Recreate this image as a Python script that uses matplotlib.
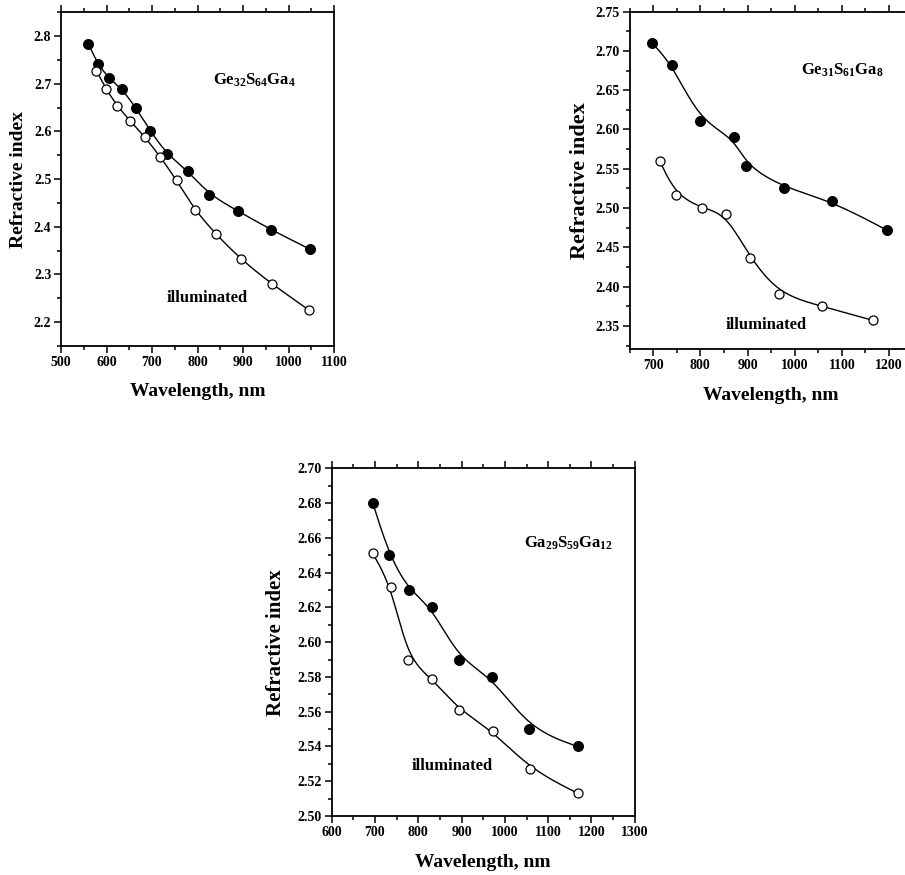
import numpy as np
import matplotlib
matplotlib.use("Agg")
import matplotlib.pyplot as plt
from matplotlib.ticker import MultipleLocator, FormatStrFormatter

plt.rcParams['font.family'] = ['Liberation Serif', 'DejaVu Serif']
plt.rcParams['font.weight'] = 'bold'
plt.rcParams['mathtext.fontset'] = 'custom'
plt.rcParams['mathtext.rm'] = 'Liberation Serif:bold'
plt.rcParams['mathtext.bf'] = 'Liberation Serif:bold'
plt.rcParams['mathtext.it'] = 'Liberation Serif:bold'

###############################################################################
# values

# Ge32S64Ga4
wl1_dark = [560, 581, 605, 635, 665, 696, 733, 778, 826, 889, 961, 1047]
n1_dark = [2.784, 2.741, 2.712, 2.688, 2.649, 2.601, 2.552, 2.518, 2.467, 2.433, 2.394, 2.353]
wl1_ill = [578, 599, 624, 652, 684, 718, 754, 794, 840, 895, 963, 1044]
n1_ill = [2.727, 2.689, 2.653, 2.622, 2.589, 2.547, 2.498, 2.435, 2.385, 2.332, 2.280, 2.226]

# Ge31S61Ga8
wl2_dark = [698, 741, 799, 871, 897, 977, 1078, 1195]
n2_dark = [2.710, 2.682, 2.611, 2.590, 2.554, 2.526, 2.509, 2.472]
wl2_ill = [714, 748, 803, 854, 905, 967, 1058, 1166]
n2_ill = [2.560, 2.517, 2.500, 2.493, 2.437, 2.390, 2.375, 2.357]

# Ga29S59Ga12
wl3_dark = [695, 733, 778, 832, 894, 971, 1056, 1168]
n3_dark = [2.680, 2.650, 2.630, 2.620, 2.590, 2.580, 2.550, 2.540]
wl3_ill = [695, 738, 776, 832, 894, 972, 1058, 1169]
n3_ill = [2.651, 2.632, 2.590, 2.579, 2.561, 2.549, 2.527, 2.513]

###############################################################################

def bspline(x, y, steps=30):
    # uniform cubic B-spline with the points as control points (like Origin's B-spline line)
    p = np.column_stack([x, y]).astype(float)
    p = np.vstack([p[:1], p[:1], p, p[-1:], p[-1:]])
    t = np.linspace(0, 1, steps)[:, None]
    b0 = (1 - t)**3 / 6
    b1 = (3 * t**3 - 6 * t**2 + 4) / 6
    b2 = (-3 * t**3 + 3 * t**2 + 3 * t + 1) / 6
    b3 = t**3 / 6
    segs = []
    for i in range(len(p) - 3):
        segs.append(b0 * p[i] + b1 * p[i + 1] + b2 * p[i + 2] + b3 * p[i + 3])
    c = np.vstack(segs)
    return c[:, 0], c[:, 1]

###############################################################################

def panel(fig, rect, wd, nd, wi, ni, xlim, ylim, xmaj, ymaj, yfmt,
          formula, fpos, ipos, ylab_x, ylab_size):
    ax = fig.add_axes(rect)
    for x, y, face in ((wd, nd, 'k'), (wi, ni, 'w')):
        sx, sy = bspline(x, y)
        ax.plot(sx, sy, color='k', lw=1.0, zorder=2)
        ax.plot(x, y, 'o', ms=7 if face == 'k' else 6.5, mfc=face, mec='k',
                mew=0.9, zorder=3, ls='none')
    ax.set_xlim(*xlim)
    ax.set_ylim(*ylim)
    ax.xaxis.set_major_locator(MultipleLocator(xmaj))
    ax.xaxis.set_minor_locator(MultipleLocator(xmaj / 2))
    ax.yaxis.set_major_locator(MultipleLocator(ymaj))
    ax.yaxis.set_minor_locator(MultipleLocator(ymaj / 2))
    ax.yaxis.set_major_formatter(FormatStrFormatter(yfmt))
    ax.tick_params(which='both', direction='out', top=True, right=False,
                   width=1.1, labelsize=10, pad=2)
    ax.tick_params(which='major', length=5)
    ax.tick_params(which='minor', length=3)
    for s in ax.spines.values():
        s.set_linewidth(1.3)
    ax.set_xlabel('Wavelength, nm', fontsize=14, fontweight='bold')
    ax.set_ylabel('Refractive index', fontsize=ylab_size, fontweight='bold')
    ax.xaxis.set_label_coords(0.5, -46.0 / (rect[3] * 875))
    ax.xaxis.label.set_va('center')
    ax.yaxis.set_label_coords(ylab_x, 0.5)
    ax.yaxis.label.set_va('center')
    ax.text(fpos[0], fpos[1], formula, fontsize=12, ha='center', va='center')
    ax.text(ipos[0], ipos[1], 'illuminated', fontsize=12, fontweight='bold',
            ha='center', va='center')
    return ax

###############################################################################

fig = plt.figure(figsize=(9.05, 8.75), dpi=100)

panel(fig, [0.0674, 0.6046, 0.3017, 0.3814], wl1_dark, n1_dark, wl1_ill, n1_ill,
      (500, 1100), (2.15, 2.85), 100, 0.1, '%.1f',
      r'Ge$_{\mathbf{32}}$S$_{\mathbf{64}}$Ga$_{\mathbf{4}}$',
      (926, 2.707), (821, 2.25), -0.156, 14)

panel(fig, [0.6956, 0.6006, 0.3129, 0.3861], wl2_dark, n2_dark, wl2_ill, n2_ill,
      (650, 1250), (2.32, 2.75), 100, 0.05, '%.2f',
      r'Ge$_{\mathbf{31}}$S$_{\mathbf{61}}$Ga$_{\mathbf{8}}$',
      (1102, 2.675), (939, 2.351), -0.175, 16)

panel(fig, [0.3665, 0.0674, 0.3349, 0.3974], wl3_dark, n3_dark, wl3_ill, n3_ill,
      (600, 1300), (2.50, 2.70), 100, 0.02, '%.2f',
      r'Ga$_{\mathbf{29}}$S$_{\mathbf{59}}$Ga$_{\mathbf{12}}$',
      (1148, 2.657), (878, 2.529), -0.185, 15)

fig.savefig('out.png', dpi=100)
